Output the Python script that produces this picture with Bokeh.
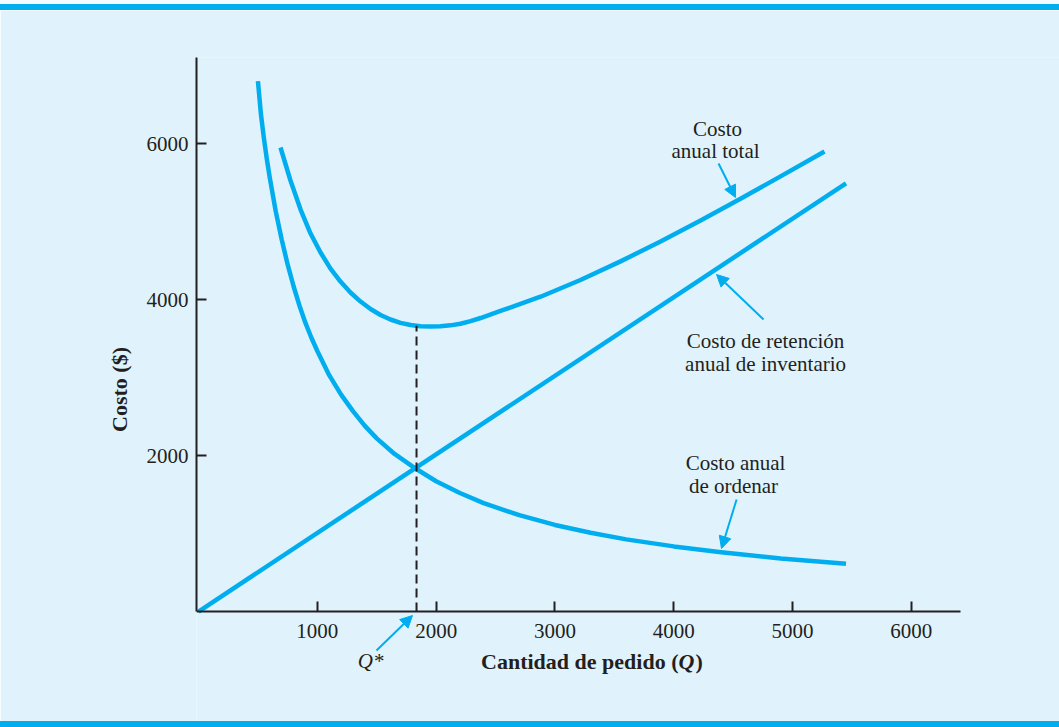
from bokeh.plotting import figure
from bokeh.models import Range1d, FixedTicker, Label, Arrow, NormalHead, Div
from bokeh.layouts import column
from bokeh.embed import file_html
from bokeh.resources import INLINE

# ---- data ----
order_q = [500, 525, 550, 575, 600, 650, 700, 750, 800, 850, 900, 950, 1000, 1100, 1200, 1300, 1400, 1500,
           1650, 1830, 2000, 2200, 2400, 2700, 3000, 3300, 3600, 4000, 4400, 4900, 5450]
order_cost = [6800, 6380, 6070, 5800, 5560, 5130, 4770, 4450, 4170, 3920, 3700, 3510, 3340, 3030, 2780, 2570,
              2380, 2220, 2020, 1830, 1670, 1520, 1390, 1235, 1110, 1010, 925, 835, 760, 680, 612]

total_q = [690, 774, 859, 943, 1027, 1111, 1195, 1279, 1364, 1448, 1532, 1616, 1700, 1785, 1869, 1953,
           2037, 2121, 2205, 2290, 2374, 2542, 2879, 3215, 3552, 3889, 4226, 4562, 4899, 5269]
total_cost = [5949, 5526, 5154, 4846, 4603, 4397, 4231, 4090, 3974, 3878, 3801, 3744, 3701, 3673, 3658, 3653,
              3656, 3669, 3690, 3723, 3763, 3853, 4036, 4251, 4489, 4745, 5014, 5292, 5579, 5897]

hold_q = [0, 5450]
hold_cost = [0, 5490]

q_star = 1835
q_star_cost = 3664

x_ticks = [1000, 2000, 3000, 4000, 5000, 6000]
y_ticks = [2000, 4000, 6000]

BG = "#e0f3fc"
CYAN = "#00aeef"
INK = "#231f20"
FONT = "Liberation Serif"

p = figure(width=1059, height=711, x_range=Range1d(-17, 7247), y_range=Range1d(-1410, 7103),
           output_backend="svg", toolbar_location=None,
           min_border_left=196, min_border_right=0, min_border_top=47, min_border_bottom=0,
           background_fill_color=BG, border_fill_color=BG)
p.outline_line_color = None
p.grid.visible = False
p.margin = 0

for ax in (p.xaxis[0], p.yaxis[0]):
    ax.axis_line_color = INK
    ax.axis_line_width = 2
    ax.major_tick_line_color = INK
    ax.major_tick_line_width = 2
    ax.major_tick_in = 10
    ax.major_tick_out = 0
    ax.minor_tick_line_color = None
    ax.major_label_text_font = FONT
    ax.major_label_text_font_size = "21px"
    ax.major_label_text_color = INK

p.xaxis.ticker = FixedTicker(ticks=x_ticks)
p.yaxis.ticker = FixedTicker(ticks=y_ticks)
p.xaxis.fixed_location = 0
p.xaxis.bounds = (-17, 6414)
p.yaxis.bounds = (0, 7103)
p.xaxis.major_label_standoff = 12
p.yaxis.major_label_standoff = 8
p.yaxis.axis_label = "Costo ($)"
p.yaxis.axis_label_text_font = FONT
p.yaxis.axis_label_text_font_style = "bold"
p.yaxis.axis_label_text_font_size = "22px"
p.yaxis.axis_label_text_color = INK
p.yaxis.axis_label_standoff = 12

# curves
p.line(order_q, order_cost, line_color=CYAN, line_width=4.5, line_join="round")
p.line(total_q, total_cost, line_color=CYAN, line_width=4.5, line_join="round")
p.line(hold_q, hold_cost, line_color=CYAN, line_width=4.5)
p.line([q_star, q_star], [0, q_star_cost], line_color=INK, line_width=2, line_dash="9 5")

def lab(x, y, t, style="normal", size="21px", align="center"):
    p.add_layout(Label(x=x, y=y, text=t, text_font=FONT, text_font_size=size,
                       text_font_style=style, text_color=INK, text_align=align,
                       text_baseline="middle"))

lab(4369, 6192, "Costo")
lab(4352, 5910, "anual total")
lab(4773, 3462, "Costo de retención")
lab(4773, 3179, "anual de inventario")
lab(4520, 1910, "Costo anual")
lab(4503, 1615, "de ordenar")
lab(1448, -628, "Q*", style="italic")

# x-axis title with italic Q
lab(4040, -641, "Cantidad de pedido (", style="bold", size="22px", align="right")
lab(4040, -641, "Q", style="bold italic", size="22px", align="left")
lab(4184, -641, ")", style="bold", size="22px", align="left")

def arr(x0, y0, x1, y1):
    p.add_layout(Arrow(x_start=x0, y_start=y0, x_end=x1, y_end=y1,
                       line_color=CYAN, line_width=2,
                       end=NormalHead(size=12, fill_color=CYAN, line_color=CYAN, line_width=1)))

arr(4377, 5744, 4520, 5308)
arr(4756, 3744, 4360, 4321)
arr(4529, 1436, 4402, 808)
arr(1498, -500, 1801, -51)

top_gap = Div(width=1059, height=4, margin=0, styles={"background-color": "#f4fbfe"})
top_bar = Div(width=1059, height=6, margin=0, styles={"background-color": CYAN})
bot_bar = Div(width=1059, height=6, margin=0, styles={"background-color": CYAN})
layout = column(top_gap, top_bar, p, bot_bar, spacing=0)

open("out.html", "w").write(file_html(layout, INLINE))
